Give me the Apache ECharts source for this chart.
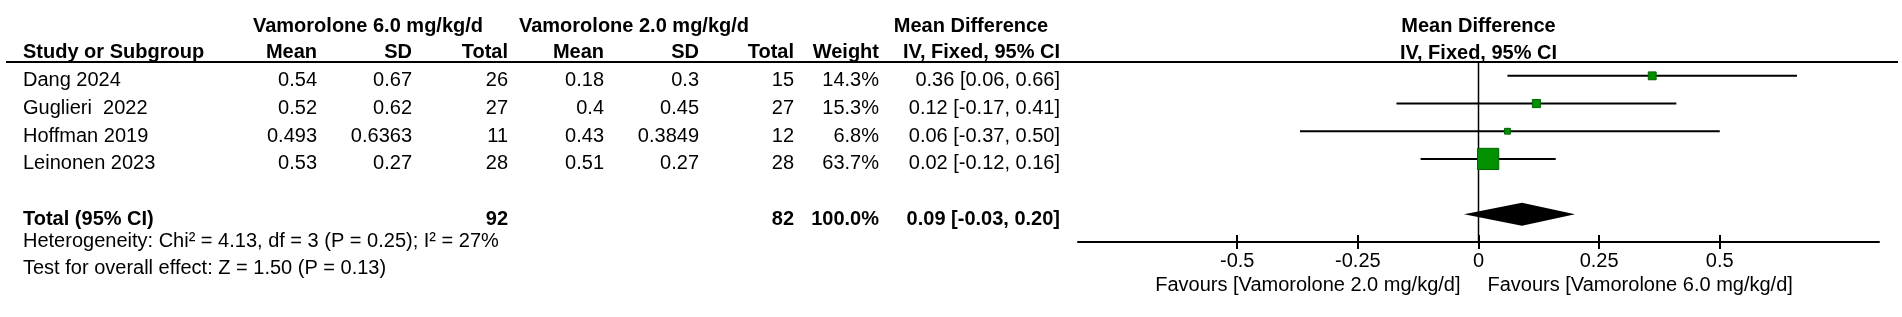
<!DOCTYPE html>
<html>
<head>
<meta charset="utf-8">
<script src="https://cdn.jsdelivr.net/npm/echarts@6/dist/echarts.min.js"></script>
<style>
  html, body { margin: 0; padding: 0; background: #fff; }
  #chart { width: 1902px; height: 317px; }
</style>
</head>
<body>
<div id="chart"></div>
<script>
// Forest plot: Vamorolone 6.0 vs 2.0 mg/kg/d

// Study data
const studies = ['Dang 2024', 'Guglieri  2022', 'Hoffman 2019', 'Leinonen 2023'];
const highMean = [0.54, 0.52, 0.493, 0.53];
const highSD = [0.67, 0.62, 0.6363, 0.27];
const highN = [26, 27, 11, 28];
const lowMean = [0.18, 0.4, 0.43, 0.51];
const lowSD = [0.3, 0.45, 0.3849, 0.27];
const lowN = [15, 27, 12, 28];
const weights = [14.3, 15.3, 6.8, 63.7];
const md = [0.36, 0.12, 0.06, 0.02];
const ciLow = [0.06, -0.17, -0.37, -0.12];
const ciHigh = [0.66, 0.41, 0.50, 0.16];
const studyRows = [0, 1, 2, 3];

// Pooled result
const totalLabel = 'Total (95% CI)';
const totalHighN = 92;
const totalLowN = 82;
const totalWeight = 100.0;
const totalMd = 0.09;
const totalLow = -0.03;
const totalHigh = 0.20;
const totalRow = 5;
const heterogeneity = 'Heterogeneity: Chi\u00b2 = 4.13, df = 3 (P = 0.25); I\u00b2 = 27%';
const overallTest = 'Test for overall effect: Z = 1.50 (P = 0.13)';

// Axis
const tickValues = [-0.5, -0.25, 0, 0.25, 0.5];
const axisMin = -0.83;
const axisMax = 0.83;
const nullValue = 0;
const favoursLeft = 'Favours [Vamorolone 2.0 mg/kg/d]';
const favoursRight = 'Favours [Vamorolone 6.0 mg/kg/d]';

const FONT = '"Liberation Sans", Arial, sans-serif';
const fmt2 = v => v.toFixed(2);
const ciText = (m, l, h) => `${fmt2(m)} [${fmt2(l)}, ${fmt2(h)}]`;

const chart = echarts.init(document.getElementById('chart'), null, { renderer: 'canvas' });

function renderStudy(params, api) {
  const y = api.coord([0, api.value(3)])[1];
  const x1 = api.coord([api.value(1), 0])[0];
  const x2 = api.coord([api.value(2), 0])[0];
  const xc = api.coord([api.value(0), 0])[0];
  const s = 4 + 0.27 * api.value(4);
  return {
    type: 'group',
    children: [
      { type: 'line', shape: { x1, y1: y, x2, y2: y }, style: { stroke: '#000', lineWidth: 2 } },
      { type: 'rect', shape: { x: xc - s / 2, y: y - s / 2, width: s, height: s },
        style: { fill: '#009000', stroke: '#006400', lineWidth: 1 } }
    ]
  };
}

function renderDiamond(params, api) {
  const y = api.coord([0, api.value(3)])[1];
  const xl = api.coord([api.value(1), 0])[0];
  const xr = api.coord([api.value(2), 0])[0];
  const xc = api.coord([api.value(0), 0])[0];
  const h = 11.5;
  return {
    type: 'polygon',
    shape: { points: [[xl, y], [xc, y - h], [xr, y], [xc, y + h]] },
    style: { fill: '#000' }
  };
}

chart.setOption({
  animation: false,
  backgroundColor: '#fff',
  grid: { left: 1078, right: 23, top: 62, bottom: 75 },
  xAxis: [
    {
      type: 'value', min: axisMin, max: axisMax, position: 'bottom',
      axisLine: { onZero: false, lineStyle: { color: '#000', width: 2 } },
      axisTick: { customValues: tickValues, length: 7, lineStyle: { color: '#000', width: 2 } },
      axisLabel: { customValues: tickValues, color: '#000', fontSize: 20, fontFamily: FONT, margin: 9 },
      splitLine: { show: false }
    },
    {
      type: 'value', min: axisMin, max: axisMax, position: 'bottom',
      axisLine: { show: false, onZero: false },
      axisTick: { customValues: tickValues, inside: true, length: 7, lineStyle: { color: '#000', width: 2 } },
      axisLabel: { show: false },
      splitLine: { show: false }
    }
  ],
  yAxis: {
    type: 'value', inverse: true, min: -0.5, max: 6, show: false
  },
  series: [
    {
      type: 'line', z: 1, silent: true, symbol: 'none',
      lineStyle: { color: '#000', width: 1.5 },
      data: [[nullValue, -0.5], [nullValue, 6]]
    },
    {
      type: 'custom', z: 3, renderItem: renderStudy,
      encode: { x: [0, 1, 2], y: 3 },
      data: studies.map((s, i) => [md[i], ciLow[i], ciHigh[i], studyRows[i], weights[i]])
    },
    {
      type: 'custom', z: 3, renderItem: renderDiamond,
      encode: { x: [0, 1, 2], y: 3 },
      data: [[totalMd, totalLow, totalHigh, totalRow]]
    }
  ]
});

// Table text placed on the same row scale as the plot
const rowY = r => chart.convertToPixel({ yAxisIndex: 0 }, r) + 5;
const zeroX = chart.convertToPixel({ xAxisIndex: 0 }, nullValue);

function txt(text, x, y, align, bold) {
  return {
    type: 'text', silent: true,
    style: {
      text: String(text), x, y, align, verticalAlign: 'middle',
      fontSize: 20, fontFamily: FONT, fontWeight: bold ? 'bold' : 'normal', fill: '#000'
    }
  };
}

// column anchors (right edges unless noted)
const colStudy = 23;
const cols = [317, 412, 508, 604, 699, 794, 879, 1060];
const head1Y = 26;
const head2Y = 52;

const graphics = [
  { type: 'line', shape: { x1: 6, y1: 62, x2: 1898, y2: 62 }, style: { stroke: '#000', lineWidth: 2 } },
  txt('Vamorolone 6.0 mg/kg/d', 368, head1Y, 'center', true),
  txt('Vamorolone 2.0 mg/kg/d', 634, head1Y, 'center', true),
  txt('Mean Difference', 971, head1Y, 'center', true),
  txt('Mean Difference', zeroX, head1Y, 'center', true),
  txt('IV, Fixed, 95% CI', zeroX, head2Y + 1, 'center', true),
  txt('Study or Subgroup', colStudy, head2Y, 'left', true)
];
['Mean', 'SD', 'Total', 'Mean', 'SD', 'Total', 'Weight', 'IV, Fixed, 95% CI'].forEach((h, c) => {
  graphics.push(txt(h, cols[c], head2Y, 'right', true));
});

studies.forEach((s, i) => {
  const y = rowY(studyRows[i]);
  const cells = [highMean[i], highSD[i], highN[i], lowMean[i], lowSD[i], lowN[i],
    weights[i].toFixed(1) + '%', ciText(md[i], ciLow[i], ciHigh[i])];
  graphics.push(txt(s, colStudy, y, 'left', false));
  cells.forEach((v, c) => graphics.push(txt(v, cols[c], y, 'right', false)));
});

const ty = rowY(totalRow);
graphics.push(txt(totalLabel, colStudy, ty, 'left', true));
graphics.push(txt(totalHighN, cols[2], ty, 'right', true));
graphics.push(txt(totalLowN, cols[5], ty, 'right', true));
graphics.push(txt(totalWeight.toFixed(1) + '%', cols[6], ty, 'right', true));
graphics.push(txt(ciText(totalMd, totalLow, totalHigh), cols[7], ty, 'right', true));
graphics.push(txt(heterogeneity, colStudy, 241, 'left', false));
graphics.push(txt(overallTest, colStudy, 268, 'left', false));

graphics.push(txt(favoursLeft, zeroX - 18, 285, 'right', false));
graphics.push(txt(favoursRight, zeroX + 9, 285, 'left', false));

chart.setOption({ graphic: graphics });
</script>
</body>
</html>
